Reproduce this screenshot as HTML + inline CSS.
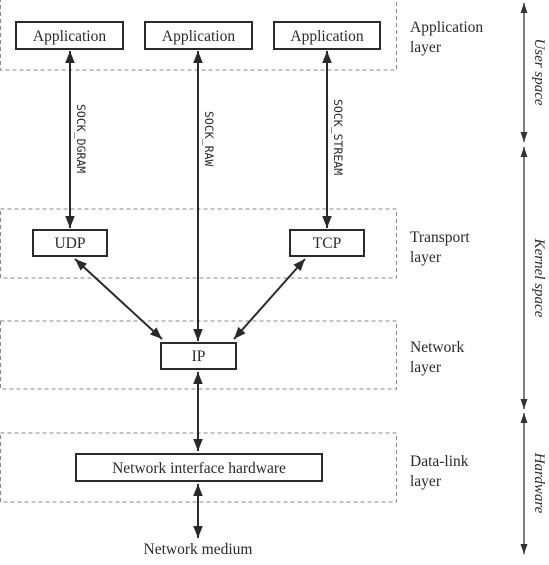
<!DOCTYPE html>
<html><head><style>
body{margin:0;background:#fff;width:549px;height:560px;overflow:hidden}
svg text{font-family:"Liberation Serif",serif;fill:#2a2a2a}
.m{font-family:"DejaVu Sans Mono","Liberation Mono",monospace;font-size:11.5px;fill:#2a2a2a}
</style></head><body>
<svg width="549" height="560" viewBox="0 0 549 560" xmlns="http://www.w3.org/2000/svg">
<defs>
<marker id="a" viewBox="0 0 10 10" refX="10" refY="5" markerWidth="12" markerHeight="12" markerUnits="userSpaceOnUse" orient="auto-start-reverse"><path d="M0,1 L10,5 L0,9 z" fill="#2a2a2a"/></marker>
<marker id="g" viewBox="0 0 10 10" refX="10" refY="5" markerWidth="10" markerHeight="10" markerUnits="userSpaceOnUse" orient="auto-start-reverse"><path d="M0,1.5 L10,5 L0,8.5 z" fill="#333"/></marker>
</defs>
<g fill="none" stroke="#888" stroke-width="1" stroke-dasharray="4,3">
<rect x="0.5" y="-1" width="396" height="71"/>
<rect x="0.5" y="209" width="396" height="69"/>
<rect x="0.5" y="321" width="396" height="68"/>
<rect x="0.5" y="433" width="396" height="69"/>
</g>
<g fill="#fff" stroke="#2a2a2a" stroke-width="2">
<rect x="16" y="22" width="107" height="27"/>
<rect x="145" y="22" width="107" height="27"/>
<rect x="274" y="22" width="106" height="27"/>
<rect x="33" y="230" width="74" height="26"/>
<rect x="290" y="230" width="74" height="26"/>
<rect x="161" y="343" width="75" height="26"/>
<rect x="76" y="454" width="246" height="27"/>
</g>
<g font-size="15.5" text-anchor="middle">
<text x="69.5" y="41">Application</text>
<text x="198.5" y="41">Application</text>
<text x="327" y="41">Application</text>
<text x="70" y="248">UDP</text>
<text x="327" y="248">TCP</text>
<text x="198.5" y="361">IP</text>
<text x="199" y="473">Network interface hardware</text>
<text x="198" y="554">Network medium</text>
</g>
<g stroke="#2a2a2a" stroke-width="2" fill="none" marker-start="url(#a)" marker-end="url(#a)">
<line x1="70" y1="51" x2="70" y2="228"/>
<line x1="327" y1="51" x2="327" y2="228"/>
<line x1="75" y1="259" x2="162" y2="339"/>
<line x1="305" y1="259" x2="234" y2="339"/>
<line x1="198" y1="372" x2="198" y2="451"/>
<line x1="198" y1="484" x2="198" y2="538"/>
</g>
<line x1="198" y1="51" x2="198" y2="341" stroke="#2a2a2a" stroke-width="2" marker-start="url(#a)" marker-end="url(#a)"/>
<text class="m" transform="translate(77,104) rotate(90)">SOCK_DGRAM</text>
<text class="m" transform="translate(205,111) rotate(90)">SOCK_RAW</text>
<text class="m" transform="translate(334,99) rotate(90)">SOCK_STREAM</text>
<g font-size="15.5">
<text x="410" y="32">Application</text><text x="410" y="52">layer</text>
<text x="410" y="242">Transport</text><text x="410" y="262">layer</text>
<text x="410" y="352">Network</text><text x="410" y="372">layer</text>
<text x="410" y="466">Data-link</text><text x="410" y="486">layer</text>
</g>
<g stroke="#555" stroke-width="1.5" marker-start="url(#g)" marker-end="url(#g)">
<line x1="524" y1="3" x2="524" y2="142"/>
<line x1="524" y1="147" x2="524" y2="409"/>
<line x1="524" y1="413" x2="524" y2="554"/>
</g>
<g font-size="15" font-style="italic" text-anchor="middle">
<text transform="translate(535,72) rotate(90)">User space</text>
<text transform="translate(535,278) rotate(90)">Kernel space</text>
<text transform="translate(535,483) rotate(90)">Hardware</text>
</g>
</svg>
</body></html>
